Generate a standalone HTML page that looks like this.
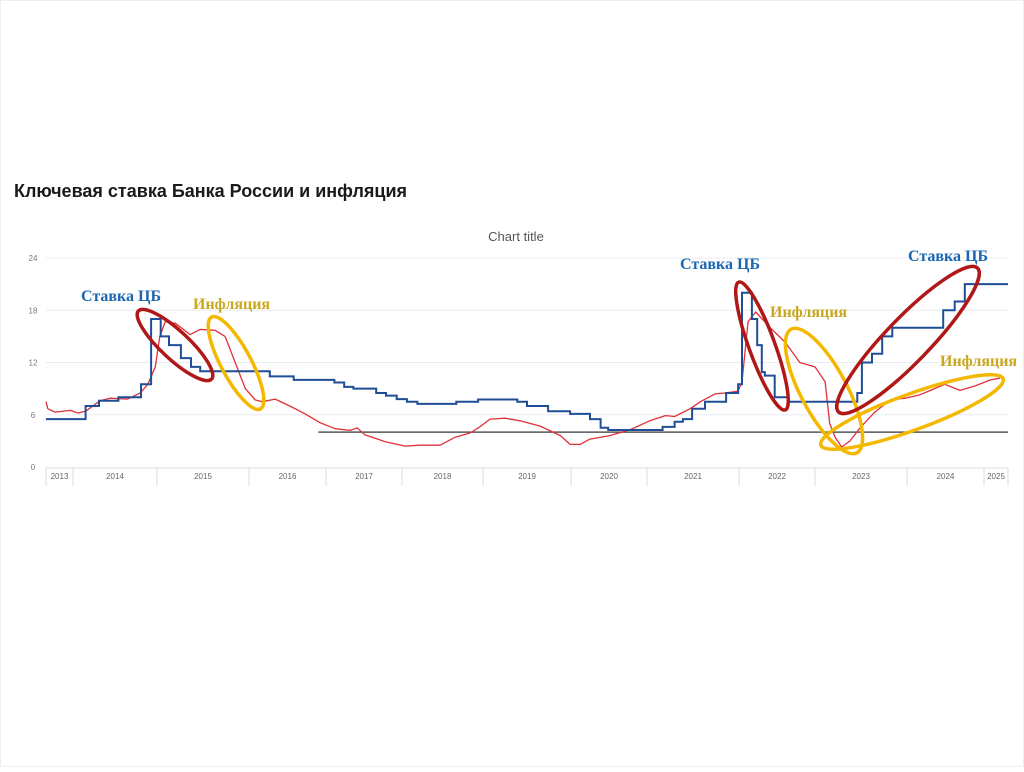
<!DOCTYPE html>
<html><head><meta charset="utf-8">
<style>
html,body{margin:0;padding:0;background:#fff;}
body{width:1024px;height:767px;overflow:hidden;position:relative;font-family:"Liberation Sans","DejaVu Sans",sans-serif;}
</style></head>
<body>
<svg id="chart" width="1024" height="767" viewBox="0 0 1024 767" xmlns="http://www.w3.org/2000/svg">
<rect x="0.5" y="0.5" width="1023" height="766" fill="#fff" stroke="#eee"/>
<text x="14" y="197" font-size="18" font-weight="bold" fill="#1a1a1a" font-family="Liberation Sans, DejaVu Sans, sans-serif">Ключевая ставка Банка России и инфляция</text>
<text x="516" y="241" font-size="13" fill="#555" text-anchor="middle">Chart title</text>
<g id="grid"></g>
<g id="xaxis"></g>
<g id="series"></g>
<g id="annot"></g>
</svg>
<script>
const yTicks = [0, 6, 12, 18, 24];
const yearLabels = ['2013','2014','2015','2016','2017','2018','2019','2020','2021','2022','2023','2024','2025'];
const targetLevel = 4;
const targetStart = 2016.90;
const rateDates = [2013.70,2014.15,2014.31,2014.54,2014.81,2014.93,2015.04,2015.13,2015.26,2015.37,2015.47,2016.27,2016.58,2017.11,2017.24,2017.36,2017.66,2017.79,2017.93,2018.06,2018.19,2018.67,2018.94,2019.39,2019.50,2019.74,2019.99,2020.25,2020.39,2020.49,2021.17,2021.30,2021.39,2021.49,2021.63,2021.86,2021.99,2022.04,2022.17,2022.24,2022.30,2022.34,2022.47,2022.64,2023.46,2023.51,2023.62,2023.73,2023.84,2024.47,2024.62,2024.75];
const rateValues = [5.5,7.0,7.6,8.0,9.5,17,15,14,12.5,11.5,11,10.4,10,9.7,9.2,9.0,8.5,8.2,7.8,7.5,7.25,7.5,7.75,7.5,7.0,6.4,6.1,5.5,4.5,4.25,4.6,5.2,5.5,6.7,7.5,8.5,9.5,20,17,14,10.9,10.5,8.0,7.5,8.5,12,13,15,16,18,19,21];
const rateEnd = 2025.30;
const inflDates = [2013.70,2013.72,2013.80,2013.97,2014.06,2014.15,2014.32,2014.44,2014.65,2014.80,2014.89,2014.98,2015.03,2015.09,2015.20,2015.36,2015.47,2015.63,2015.74,2015.85,2015.96,2016.08,2016.17,2016.34,2016.53,2016.73,2016.92,2017.12,2017.32,2017.41,2017.51,2017.78,2018.04,2018.22,2018.47,2018.65,2018.84,2018.96,2019.08,2019.25,2019.42,2019.65,2019.88,2019.99,2020.12,2020.25,2020.51,2020.78,2021.03,2021.20,2021.30,2021.47,2021.58,2021.74,2021.85,2021.99,2022.04,2022.12,2022.22,2022.41,2022.61,2022.80,2023.00,2023.11,2023.16,2023.22,2023.29,2023.38,2023.49,2023.65,2023.82,2023.98,2024.17,2024.36,2024.49,2024.69,2024.88,2025.08,2025.20];
const inflValues = [7.5,6.7,6.3,6.5,6.2,6.4,7.6,7.9,7.8,8.5,9.5,11.5,15,16.7,16.5,15.2,15.8,15.7,15,12,9,7.7,7.5,7.8,7,6.1,5.1,4.4,4.2,4.5,3.7,2.9,2.4,2.5,2.5,3.4,3.9,4.6,5.5,5.6,5.3,4.7,3.6,2.6,2.6,3.2,3.6,4.3,5.3,5.9,5.8,6.7,7.5,8.4,8.5,8.7,9.8,16.7,17.8,16,14.3,12,11.5,9.8,5,3.4,2.3,3,4.5,6.3,7.7,7.9,8.3,9,9.5,8.8,9.3,10,10.2];

const NS='http://www.w3.org/2000/svg';
const bYears=[2013.7,2014,2015,2016,2017,2018,2019,2020,2021,2022,2023,2024,2025,2025.3];
const bPx=[46,73,157,249,326,402,483,571,647,739,815,907,984,1008];
function x(t){for(let i=0;i<bYears.length-1;i++){if(t<=bYears[i+1]||i===bYears.length-2){return bPx[i]+(t-bYears[i])/(bYears[i+1]-bYears[i])*(bPx[i+1]-bPx[i]);}}}
function y(v){return 467 - v*(209/24);}
function mk(tag,attrs,parent){const e=document.createElementNS(NS,tag);for(const k in attrs)e.setAttribute(k,attrs[k]);parent.appendChild(e);return e;}
const grid=document.getElementById('grid');
yTicks.forEach(v=>{
  if(v>0){const l=mk('line',{x1:46,x2:1008,y1:y(v),y2:y(v),stroke:'#e8ecf2','stroke-width':1},grid);
  
  }
  const t=mk('text',{x:33,y:y(v)+3,'font-size':8,fill:'#777','text-anchor':'middle'},grid);
  t.textContent=v;
  
  
});
const xa=document.getElementById('xaxis');
const base=mk('line',{x1:46,x2:1008,y1:468,y2:468,stroke:'#d8dde6','stroke-width':1},xa);


for(let i=0;i<bPx.length;i++){
  const s=mk('line',{x1:bPx[i],x2:bPx[i],y1:468,y2:486,stroke:'#d8dde6','stroke-width':1},xa);
  
  
}
yearLabels.forEach((lab,i)=>{
  const cx=(bPx[i]+bPx[i+1])/2;
  const t=mk('text',{x:cx,y:479,'font-size':8,fill:'#666','text-anchor':'middle'},xa);
  t.textContent=lab;
  
  
});
const ser=document.getElementById('series');
const tl=mk('line',{x1:x(targetStart),x2:1008,y1:y(targetLevel),y2:y(targetLevel),stroke:'#555','stroke-width':1.5},ser);


let d='';
inflDates.forEach((t,i)=>{d+=(i?'L':'M')+x(t).toFixed(1)+','+y(inflValues[i]).toFixed(1);});
const ip=mk('path',{d:d,fill:'none',stroke:'#e0303a','stroke-width':1.3,'stroke-linejoin':'round'},ser);


let r='';
rateDates.forEach((t,i)=>{
  const xe=x(i<rateDates.length-1?rateDates[i+1]:rateEnd);
  if(i===0)r+='M'+x(t).toFixed(1)+','+y(rateValues[i]).toFixed(1);
  else r+='L'+x(t).toFixed(1)+','+y(rateValues[i]).toFixed(1);
  r+='L'+xe.toFixed(1)+','+y(rateValues[i]).toFixed(1);
});
const rp=mk('path',{d:r,fill:'none',stroke:'#1f4e96','stroke-width':2},ser);


</script>
<svg width="1024" height="767" style="position:absolute;left:0;top:0">
<g fill="none" stroke-width="3.5">
<ellipse cx="175" cy="345" rx="50" ry="14" transform="rotate(43 175 345)" stroke="#b01818"/>
<ellipse cx="236" cy="363" rx="52" ry="15" transform="rotate(62 236 363)" stroke="#f5b800"/>
<ellipse cx="762" cy="346" rx="68" ry="13" transform="rotate(70 762 346)" stroke="#b01818"/>
<ellipse cx="824" cy="391" rx="70" ry="23" transform="rotate(62 824 391)" stroke="#f5b800"/>
<ellipse cx="908" cy="340" rx="100" ry="22" transform="rotate(-46 908 340)" stroke="#b01818"/>
<ellipse cx="912" cy="412" rx="97" ry="18" transform="rotate(-20 912 412)" stroke="#f5b800"/>
</g>
<g font-family="Liberation Serif, DejaVu Serif, serif" font-weight="bold" font-size="16">
<text x="81" y="301" fill="#1a66b0">Ставка ЦБ</text>
<text x="193" y="309" fill="#c9a820">Инфляция</text>
<text x="680" y="269" fill="#1a66b0">Ставка ЦБ</text>
<text x="770" y="317" fill="#c9a820">Инфляция</text>
<text x="908" y="261" fill="#1a66b0">Ставка ЦБ</text>
<text x="940" y="366" fill="#c9a820">Инфляция</text>
</g>
</svg>
</body></html>
